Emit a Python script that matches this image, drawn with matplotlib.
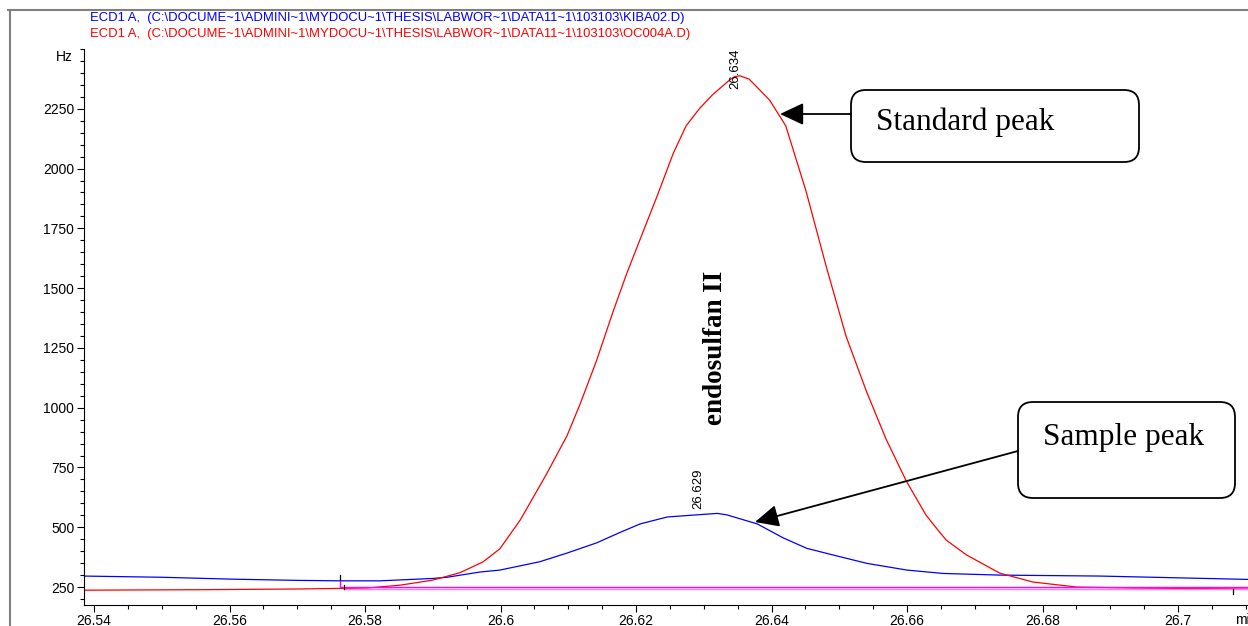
import numpy as np
import matplotlib.pyplot as plt
from matplotlib.patches import FancyBboxPatch, FancyArrowPatch
from matplotlib.lines import Line2D
from matplotlib.ticker import MultipleLocator, FuncFormatter

plt.rcParams['font.family'] = ['Liberation Sans', 'DejaVu Sans']
plt.rcParams['font.size'] = 10

# >>>>>>>>>>>>>> data
# sample run (blue)
t_sample = [26.5385, 26.5500, 26.5605, 26.5700, 26.5763, 26.5822, 26.5900, 26.5921,
            26.5970, 26.5999, 26.6058, 26.6098, 26.6142, 26.6176, 26.6206, 26.6246,
            26.6280, 26.6320, 26.6334, 26.6379, 26.6417, 26.6452, 26.6491, 26.6541,
            26.6600, 26.6653, 26.6737, 26.6885, 26.7103]
hz_sample = [296, 291, 283, 278, 276, 276, 286, 291,
             313, 321, 356, 392, 435, 478, 514, 543,
             550, 558, 552, 514, 456, 412, 384, 349,
             321, 307, 300, 296, 282]

# standard run (red)
t_std = [26.5385, 26.5556, 26.5704, 26.5803, 26.5852, 26.5900, 26.5940, 26.5974,
         26.5999, 26.6029, 26.6068, 26.6098, 26.6117, 26.6142, 26.6166, 26.6186,
         26.6206, 26.6231, 26.6255, 26.6274, 26.6294, 26.6313, 26.6338, 26.6345,
         26.6353, 26.6367, 26.6397, 26.6421, 26.6451, 26.6481, 26.6510, 26.6540,
         26.6569, 26.6599, 26.6628, 26.6648, 26.6658, 26.6688, 26.6737, 26.6786,
         26.6851, 26.6934, 26.7103]
hz_std = [237, 239, 242, 246, 258, 279, 310, 355,
          410, 530, 723, 882, 1012, 1199, 1401, 1559,
          1704, 1884, 2064, 2179, 2252, 2309, 2370, 2384,
          2388, 2374, 2287, 2179, 1905, 1588, 1299, 1069,
          869, 693, 551, 480, 446, 384, 308, 271,
          250, 246, 242]

# integration baselines
base_sample_t = [26.5763, 26.5763, 26.7103]
base_sample_hz = [276, 251, 251]
base_std_t = [26.5769, 26.7103]
base_std_hz = [240, 240]

# peak start / end marks
mark_t = [26.5763, 26.5769, 26.7081]
mark_lo = [279, 240, 223]
mark_hi = [300, 258, 240]

# retention time labels
peak_labels = ['26.629', '26.634']
peak_t = [26.6292, 26.6346]
peak_hz = [576, 2332]

header_lines = [r'ECD1 A,  (C:\DOCUME~1\ADMINI~1\MYDOCU~1\THESIS\LABWOR~1\DATA11~1\103103\KIBA02.D)',
                r'ECD1 A,  (C:\DOCUME~1\ADMINI~1\MYDOCU~1\THESIS\LABWOR~1\DATA11~1\103103\OC004A.D)']
header_colors = ['#0000FF', '#FF0000']

# >>>>>>>>>>>>>> plotting
W, H = 1248, 626


def fx(px):
    return px / W


def fy(py):
    return 1 - py / H


fig = plt.figure(figsize=(W / 100, H / 100), dpi=100)
ax = fig.add_axes([fx(84), fy(605), 1 - fx(84), (605 - 49) / H])

ax.plot(t_sample, hz_sample, color='#0000FF', lw=0.9)
ax.plot(t_std, hz_std, color='#FF0000', lw=0.9)
ax.plot(base_sample_t, base_sample_hz, color='#FF00FF', lw=1.0)
ax.plot(base_std_t, base_std_hz, color='#FF77FF', lw=1.0)
for t, lo, hi in zip(mark_t, mark_lo, mark_hi):
    ax.plot([t, t], [lo, hi], color='black', lw=0.9)

for lab, t, h in zip(peak_labels, peak_t, peak_hz):
    ax.text(t, h, lab, rotation=90, ha='center', va='bottom', fontsize=9.5)

ax.set_xlim(26.53852, 26.71033)
ax.set_ylim(175, 2500)
ax.set_yticks(np.arange(250, 2251, 250))
ax.yaxis.set_minor_locator(MultipleLocator(50))
ax.xaxis.set_major_locator(MultipleLocator(0.02))
ax.xaxis.set_minor_locator(MultipleLocator(0.005))
ax.xaxis.set_major_formatter(FuncFormatter(lambda v, p: f'{v:g}'))
ax.tick_params(which='major', length=5, width=0.8, pad=2, labelsize=10)
ax.tick_params(axis='x', which='major', pad=1.5)
ax.tick_params(which='minor', length=3, width=0.8)
ax.spines['top'].set_visible(False)
ax.spines['right'].set_visible(False)

fig.text(fx(73), fy(57), 'Hz', ha='right', va='center', fontsize=10)
fig.text(fx(1235), fy(620), 'min', ha='left', va='center', fontsize=10)

for i, (line, c) in enumerate(zip(header_lines, header_colors)):
    fig.text(fx(90), fy(18 + 16 * i), line, color=c, ha='left', va='center', fontsize=9.4)

# outer frame
fig.add_artist(Line2D([fx(10), fx(10)], [fy(10), 0], color='#808080', lw=1.5))
fig.add_artist(Line2D([fx(8), 1], [fy(10), fy(10)], color='#808080', lw=1.5))

# callout boxes
serif = ['Liberation Serif', 'DejaVu Serif']
boxes = [(851, 90, 288, 72, 876, 122, 'Standard peak'),
         (1018, 402, 217, 96, 1043, 437, 'Sample peak')]
for x0, y0, w, h, tx, ty, lab in boxes:
    fig.add_artist(FancyBboxPatch((fx(x0), fy(y0 + h)), w / W, h / H,
                                  boxstyle='round,pad=0,rounding_size=0.012',
                                  transform=fig.transFigure, fc='white', ec='black', lw=1.3,
                                  mutation_aspect=W / H))
    fig.text(fx(tx), fy(ty), lab, family=serif, fontsize=22.5, ha='left', va='center')

arrows = [((851, 114), (780, 114)), ((1018, 451), (755, 522))]
for (x0, y0), (x1, y1) in arrows:
    fig.add_artist(FancyArrowPatch((fx(x0), fy(y0)), (fx(x1), fy(y1)), transform=fig.transFigure,
                                   arrowstyle='-|>,head_length=1.0,head_width=0.47', mutation_scale=14.5,
                                   color='black', lw=1.3, shrinkA=0, shrinkB=0))

fig.text(fx(716), fy(348), 'endosulfan II', family=serif, fontweight='bold', fontsize=19.5,
         rotation=90, ha='center', va='center')

fig.savefig('out.png', dpi=100)
